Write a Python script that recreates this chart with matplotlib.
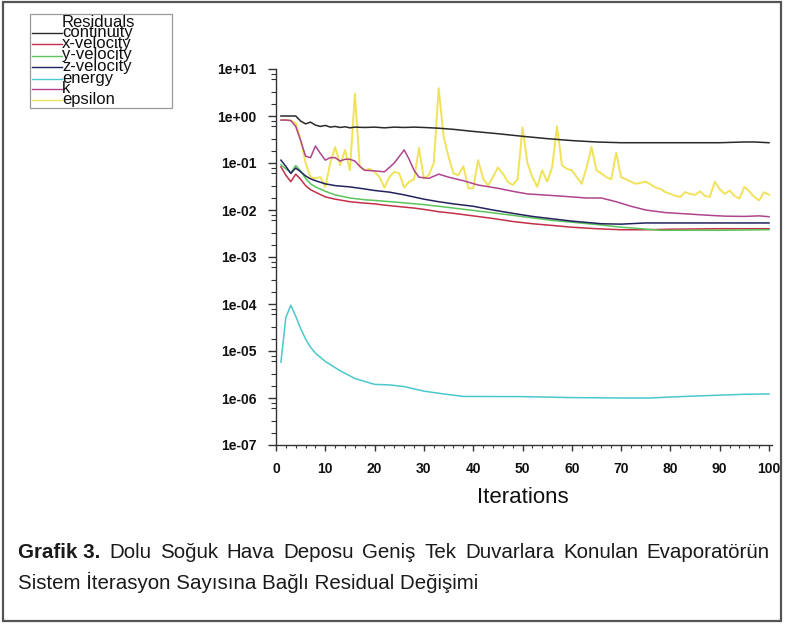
import matplotlib
matplotlib.use("Agg")
import matplotlib.pyplot as plt
from matplotlib import font_manager
from matplotlib.ticker import LogLocator, MultipleLocator, FixedLocator, NullFormatter
from matplotlib.patches import Rectangle
from matplotlib.lines import Line2D

# ---------------- data ----------------
cont_it = [1, 2, 3, 4, 5, 6, 7, 8, 9, 10, 11, 12, 13, 14, 15, 16, 18, 20, 22, 24, 26, 28, 30,
           33, 36, 40, 45, 50, 55, 60, 65, 70, 75, 80, 85, 90, 95, 97, 100]
cont_val = [1.0, 1.0, 1.0, 1.0, 0.78, 0.68, 0.74, 0.64, 0.6, 0.63, 0.58, 0.6, 0.57, 0.59, 0.56, 0.58,
            0.57, 0.58, 0.56, 0.58, 0.57, 0.58, 0.57, 0.55, 0.52, 0.47, 0.42, 0.37, 0.33, 0.30,
            0.28, 0.27, 0.27, 0.27, 0.27, 0.27, 0.28, 0.28, 0.27]

xvel_it = [1, 2, 3, 4, 5, 6, 7, 8, 10, 12, 15, 18, 20, 22, 25, 28, 30, 33, 36, 40, 44, 48, 52,
           56, 60, 65, 70, 75, 80, 90, 100]
xvel_val = [0.083, 0.055, 0.04, 0.058, 0.045, 0.033, 0.027, 0.024, 0.019, 0.017, 0.015, 0.014,
            0.0135, 0.0127, 0.0118, 0.011, 0.0103, 0.0092, 0.0085, 0.0075, 0.0066, 0.0057,
            0.0051, 0.0047, 0.0043, 0.0040, 0.0038, 0.0038, 0.0039, 0.0040, 0.0040]

yvel_it = [1, 2, 3, 4, 5, 6, 7, 8, 10, 12, 15, 18, 20, 25, 30, 33, 36, 40, 44, 48, 52, 56, 60,
           66, 70, 74, 78, 85, 90, 100]
yvel_val = [0.092, 0.075, 0.062, 0.088, 0.068, 0.047, 0.036, 0.031, 0.025, 0.021, 0.018, 0.0165,
            0.016, 0.0145, 0.013, 0.012, 0.011, 0.0098, 0.0087, 0.0077, 0.0068, 0.006, 0.0055,
            0.0048, 0.0043, 0.004, 0.0037, 0.0037, 0.0037, 0.0038]

zvel_it = [1, 2, 3, 4, 5, 6, 7, 8, 10, 12, 15, 18, 20, 23, 26, 30, 33, 36, 40, 44, 48, 52, 56,
           60, 66, 70, 75, 80, 90, 100]
zvel_val = [0.115, 0.085, 0.06, 0.078, 0.065, 0.053, 0.046, 0.042, 0.036, 0.033, 0.031, 0.028,
            0.026, 0.024, 0.021, 0.017, 0.015, 0.0135, 0.012, 0.010, 0.0085, 0.0073, 0.0065,
            0.0058, 0.0051, 0.0050, 0.0053, 0.0053, 0.0053, 0.0053]

energy_it = [1, 2, 3, 4, 5, 6, 7, 8, 10, 13, 16, 20, 23, 26, 30, 34, 38, 50, 60, 70, 76, 80, 85,
             90, 95, 100]
energy_val = [5.8e-6, 5.2e-5, 9.4e-5, 5.5e-5, 3.0e-5, 1.8e-5, 1.2e-5, 9.0e-6, 6.0e-6, 3.8e-6,
              2.6e-6, 1.95e-6, 1.9e-6, 1.75e-6, 1.4e-6, 1.22e-6, 1.08e-6, 1.07e-6, 1.02e-6,
              1.0e-6, 1.0e-6, 1.05e-6, 1.1e-6, 1.15e-6, 1.2e-6, 1.22e-6]

k_it = [1, 2, 3, 4, 5, 6, 7, 8, 9, 10, 11, 12, 13, 14, 15, 16, 17, 18, 20, 22, 24, 26, 27, 28,
        29, 31, 33, 35, 38, 41, 45, 48, 51, 54, 57, 60, 63, 66, 69, 72, 75, 79, 83, 87, 91, 95,
        98, 100]
k_val = [0.82, 0.82, 0.8, 0.6, 0.3, 0.14, 0.13, 0.23, 0.16, 0.115, 0.13, 0.13, 0.11, 0.12, 0.12,
         0.11, 0.085, 0.07, 0.068, 0.065, 0.1, 0.19, 0.12, 0.07, 0.05, 0.047, 0.058, 0.05, 0.042,
         0.034, 0.029, 0.025, 0.022, 0.021, 0.02, 0.019, 0.018, 0.018, 0.015, 0.012, 0.010,
         0.0088, 0.0083, 0.0078, 0.0074, 0.0073, 0.0075, 0.0072]

eps_it = list(range(1, 101))
eps_val = [0.82, 0.82, 0.8, 0.7, 0.31, 0.1, 0.05, 0.047, 0.05, 0.031,
           0.1, 0.22, 0.09, 0.19, 0.07, 3.0, 0.083, 0.07, 0.075, 0.065,
           0.05, 0.03, 0.05, 0.065, 0.06, 0.03, 0.04, 0.045, 0.21, 0.047,
           0.055, 0.1, 3.9, 0.36, 0.135, 0.06, 0.055, 0.086, 0.029, 0.029,
           0.115, 0.047, 0.033, 0.05, 0.08, 0.06, 0.04, 0.034, 0.045, 0.57,
           0.1, 0.05, 0.031, 0.07, 0.04, 0.08, 0.6, 0.09, 0.075, 0.07,
           0.05, 0.036, 0.08, 0.22, 0.07, 0.06, 0.05, 0.045, 0.166, 0.05,
           0.045, 0.04, 0.036, 0.038, 0.04, 0.035, 0.03, 0.028, 0.024, 0.022,
           0.02, 0.019, 0.024, 0.022, 0.021, 0.025, 0.02, 0.019, 0.04, 0.028,
           0.022, 0.026, 0.02, 0.0175, 0.031, 0.025, 0.019, 0.016, 0.024, 0.021]

series_names = ["continuity", "x-velocity", "y-velocity", "z-velocity", "energy", "k", "epsilon"]
series_colors = ["#2a2a2a", "#c4304a", "#5cc45c", "#23235e", "#4cc8cc", "#b0448e", "#f0e35a"]
legend_title = "Residuals"
x_label = "Iterations"
y_tick_values = [1e-7, 1e-6, 1e-5, 1e-4, 1e-3, 1e-2, 1e-1, 1e0, 1e1]
y_tick_labels = ["1e-07", "1e-06", "1e-05", "1e-04", "1e-03", "1e-02", "1e-01", "1e+00", "1e+01"]
x_tick_values = [0, 10, 20, 30, 40, 50, 60, 70, 80, 90, 100]
caption_bold = "Grafik 3."
caption_line1 = "Dolu Soğuk Hava Deposu Geniş Tek Duvarlara Konulan Evaporatörün"
caption_line2 = "Sistem İterasyon Sayısına Bağlı Residual Değişimi"

# ---------------- fonts ----------------
plt.rcParams['font.family'] = ['Liberation Sans', 'DejaVu Sans']
def has_font(name):
    try:
        font_manager.findfont(font_manager.FontProperties(family=name), fallback_to_default=False)
        return True
    except Exception:
        return False
cap_family = ['Liberation Sans Narrow', 'Liberation Sans', 'DejaVu Sans'] if has_font('Liberation Sans Narrow') \
    else ['Liberation Sans', 'DejaVu Sans']

W, H = 786, 624
fig = plt.figure(figsize=(W / 100, H / 100), dpi=100)

# main axes (pixel placement)
left, right, top, bottom = 276, 769, 69, 445
ax = fig.add_axes([left / W, 1 - bottom / H, (right - left) / W, (bottom - top) / H])
ax.set_yscale('log')
ax.set_ylim(1e-7, 1e1)
ax.set_xlim(0, 100)

all_it = [cont_it, xvel_it, yvel_it, zvel_it, energy_it, k_it, eps_it]
all_val = [cont_val, xvel_val, yvel_val, zvel_val, energy_val, k_val, eps_val]
for it, val, c, n in zip(all_it, all_val, series_colors, series_names):
    lw = 1.4 if n == "epsilon" else 1.1
    ax.plot(it, val, color=c, lw=lw, label=n, zorder=3 if n != "epsilon" else 2, clip_on=False)

for s in ['top', 'right']:
    ax.spines[s].set_visible(False)
for s in ['left', 'bottom']:
    ax.spines[s].set_color('#333333')
    ax.spines[s].set_linewidth(1.0)
ax.spines['bottom'].set_bounds(0, 100.6)

ax.yaxis.set_major_locator(FixedLocator(y_tick_values))
ax.set_yticklabels(y_tick_labels)
ax.yaxis.set_minor_locator(LogLocator(base=10, subs=(1.8, 3.2, 6.0, 8.0), numticks=20))
ax.yaxis.set_minor_formatter(NullFormatter())
ax.xaxis.set_major_locator(FixedLocator(x_tick_values))
ax.xaxis.set_minor_locator(MultipleLocator(2))

ax.tick_params(axis='y', which='major', length=6, width=1, color='#333333', pad=8,
               labelsize=10, direction='out')
ax.tick_params(axis='y', which='minor', length=3.5, width=0.8, color='#333333', direction='out')
ax.tick_params(axis='x', which='major', length=4, width=1, color='#333333', pad=8,
               labelsize=10, direction='out')
ax.tick_params(axis='x', which='minor', length=2.5, width=0.8, color='#333333', direction='out')
for lab in ax.get_xticklabels() + ax.get_yticklabels():
    lab.set_fontweight('bold')
    lab.set_color('#111111')
ax.set_xlabel(x_label, fontsize=16, labelpad=8, color='#111111')
ax.set_facecolor('none')

# overlay in pixel coordinates for frame, legend and caption
ov = fig.add_axes([0, 0, 1, 1], zorder=-1)
ov.set_xlim(0, W)
ov.set_ylim(H, 0)
ov.axis('off')

ov.add_patch(Rectangle((3, 2), 778, 619, fill=False, ec='#555555', lw=1.6))

# legend box
ov.add_patch(Rectangle((30, 14), 142, 94, fill=False, ec='#999999', lw=0.9))
ov.text(62, 27, legend_title, fontsize=12, ha='left', va='baseline', color='#111111')
leg_y = [33.3, 44.3, 55.5, 66.7, 78.5, 89.3, 100.0]
for yy, n, c in zip(leg_y, series_names, series_colors):
    ov.add_line(Line2D([32, 62], [yy, yy], color=c, lw=1.0))
    ov.text(62, yy + 4, n, fontsize=12, ha='left', va='baseline', color='#111111')

# caption
fig.canvas.draw()
renderer = fig.canvas.get_renderer()
base_size = 14
t2 = ov.text(18, 582, caption_line2, fontsize=base_size, family=cap_family, ha='left',
             va='center', color='#1a1a1a')
w2 = t2.get_window_extent(renderer).width
size = base_size * 465.0 / w2
t2.set_fontsize(size)

words = [(caption_bold, 'bold')] + [(w, 'normal') for w in caption_line1.split()]
texts = []
for w, wt in words:
    t = ov.text(0, 553, w, fontsize=size, family=cap_family, fontweight=wt, ha='left',
                va='center', color='#1a1a1a')
    texts.append(t)
widths = [t.get_window_extent(renderer).width for t in texts]
x0, x1 = 18.0, 770.0
gap = (x1 - x0 - sum(widths)) / (len(texts) - 1)
xx = x0
for t, w in zip(texts, widths):
    t.set_x(xx)
    xx += w + gap

fig.savefig("out.png", dpi=100, facecolor='white')
